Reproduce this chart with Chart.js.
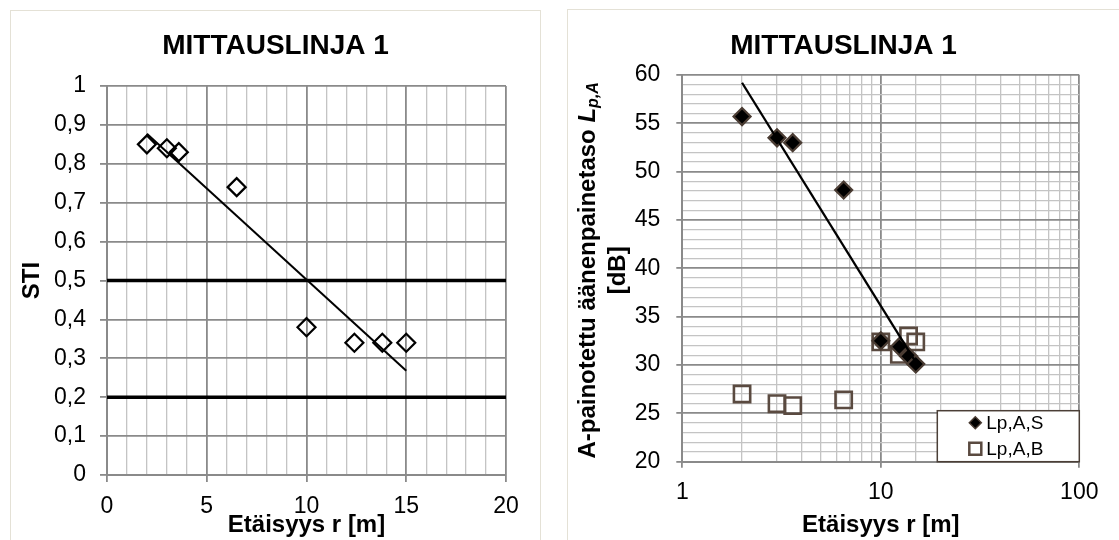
<!DOCTYPE html>
<html>
<head>
<meta charset="utf-8">
<script src="https://cdn.jsdelivr.net/npm/chart.js@4.4.0/dist/chart.umd.min.js"></script>
<style>
  html, body { margin: 0; padding: 0; background: #fff; }
  body { width: 1119px; height: 540px; position: relative; overflow: hidden; }
  .frame { position: absolute; border: 1px solid #e4e1d6; border-bottom: none; box-sizing: border-box; }
  #leftFrame { left: 10px; top: 10px; width: 531px; height: 540px; }
  #rightFrame { left: 567px; top: 9px; width: 580px; height: 540px; }
  canvas { position: absolute; }
  #stiChart { left: 11px; top: 11px; }
  #lpChart { left: 568px; top: 10px; }
</style>
</head>
<body>
<div class="frame" id="leftFrame"></div>
<div class="frame" id="rightFrame"></div>
<canvas id="stiChart" width="529" height="529"></canvas>
<canvas id="lpChart" width="551" height="530"></canvas>
<script>
Chart.defaults.font.family = "'Liberation Sans', Arial, sans-serif";
Chart.defaults.color = '#000';

// left chart: STI vs distance
const distance = [2, 3, 3.6, 6.5, 10, 12.4, 13.8, 15];
const sti = [0.85, 0.84, 0.83, 0.74, 0.38, 0.34, 0.34, 0.34];
const stiTrendX = [2, 15];
const stiTrendY = [0.877, 0.268];
const stiLimits = [0.5, 0.2];
const stiXRange = [0, 20];
const stiYRange = [0, 1];

// right chart: sound pressure level vs distance (log x)
const lpS = [55.7, 53.5, 53.0, 48.1, 32.5, 31.9, 30.9, 30.1];
const lpB = [27.0, 26.0, 25.8, 26.4, 32.4, 31.1, 33.0, 32.4];
const lpTrendX = [2, 15];
const lpTrendY = [59.2, 30.3];
const lpXRange = [1, 100];
const lpYRange = [20, 60];
const lpLabels = ['Lp,A,S', 'Lp,A,B'];

const chartTitle = 'MITTAUSLINJA 1';
const xTitle = 'Etäisyys r [m]';

const MAJOR = '#8a8a8a';
const MINOR = '#c4c4c4';
const S_EDGE = '#4a3c33';
const B_EDGE = '#5a4a40';

const pts = (xs, ys) => xs.map((x, i) => ({ x, y: ys[i] }));
const comma = v => String(Math.round(v * 10) / 10).replace('.', ',');
const isDecade = v => {
  const l = Math.log10(v);
  return Math.abs(l - Math.round(l)) < 1e-9;
};
const every5 = v => Math.abs(v / 5 - Math.round(v / 5)) < 1e-9;

// rotated y title with italic L and subscript p,A
const richYTitle = {
  id: 'richYTitle',
  afterDraw(chart) {
    const ctx = chart.ctx;
    const a = chart.chartArea;
    const cy = (a.top + a.bottom) / 2 + 2;
    const fam = "'Liberation Sans', Arial, sans-serif";
    const parts = [
      { text: 'A-painotettu äänenpainetaso ', font: 'bold 24px ' + fam, dy: 0 },
      { text: 'L', font: 'italic bold 24px ' + fam, dy: 0 },
      { text: 'p,A', font: 'italic bold 16px ' + fam, dy: 6 },
    ];
    ctx.save();
    ctx.fillStyle = '#000';
    ctx.textBaseline = 'middle';
    ctx.translate(20, cy);
    ctx.rotate(-Math.PI / 2);
    let total = 0;
    parts.forEach(p => { ctx.font = p.font; p.w = ctx.measureText(p.text).width; total += p.w; });
    let x = -total / 2;
    parts.forEach(p => { ctx.font = p.font; ctx.fillText(p.text, x, p.dy); x += p.w; });
    ctx.font = 'bold 24px ' + fam;
    ctx.textAlign = 'center';
    ctx.fillText('[dB]', 0, 30);
    ctx.restore();
  }
};

// legend box in the lower right corner of the plot
const boxLegend = {
  id: 'boxLegend',
  afterDraw(chart) {
    const ctx = chart.ctx;
    const a = chart.chartArea;
    const w = 142, h = 51;
    const x0 = a.right - w, y0 = a.bottom - h;
    ctx.save();
    ctx.fillStyle = '#fff';
    ctx.fillRect(x0, y0, w, h);
    ctx.strokeStyle = '#4b3f37';
    ctx.lineWidth = 1.5;
    ctx.strokeRect(x0, y0, w, h);
    ctx.font = "19px 'Liberation Sans', Arial, sans-serif";
    ctx.textBaseline = 'middle';
    ctx.fillStyle = '#000';
    lpLabels.forEach((label, i) => {
      const cy = y0 + 12 + i * 26;
      const mx = x0 + 38;
      ctx.beginPath();
      if (i === 0) {
        ctx.moveTo(mx - 6, cy); ctx.lineTo(mx, cy - 6); ctx.lineTo(mx + 6, cy); ctx.lineTo(mx, cy + 6);
        ctx.closePath();
        ctx.fillStyle = '#000'; ctx.fill();
        ctx.strokeStyle = S_EDGE; ctx.lineWidth = 1.5; ctx.stroke();
      } else {
        ctx.rect(mx - 6, cy - 6, 12, 12);
        ctx.strokeStyle = B_EDGE; ctx.lineWidth = 2.5; ctx.stroke();
      }
      ctx.fillStyle = '#000';
      ctx.fillText(label, x0 + 49, cy + 1);
    });
    ctx.restore();
  }
};

new Chart(document.getElementById('stiChart'), {
  type: 'scatter',
  data: {
    datasets: [
      { label: 'trend', data: pts(stiTrendX, stiTrendY), showLine: true,
        borderColor: '#000', borderWidth: 2, pointRadius: 0 },
      { label: 'STI', data: pts(distance, sti), pointStyle: 'rectRot', pointRadius: 9,
        pointBorderWidth: 2.2, pointBorderColor: '#000', pointBackgroundColor: 'rgba(255,255,255,0)' },
      ...stiLimits.map(v => ({
        label: 'limit ' + v, data: pts(stiXRange, [v, v]), showLine: true,
        borderColor: '#000', borderWidth: 3.5, pointRadius: 0
      })),
    ],
  },
  options: {
    responsive: false,
    animation: false,
    events: [],
    plugins: {
      legend: { display: false },
      tooltip: { enabled: false },
      title: {
        display: true, text: chartTitle,
        font: { size: 28, weight: 'bold' },
        padding: { top: 18.6, bottom: 22.8 },
      },
    },
    scales: {
      x: {
        type: 'linear', min: stiXRange[0], max: stiXRange[1],
        ticks: { stepSize: 1, autoSkip: false, maxRotation: 0, padding: 11, font: { size: 23 },
          callback: v => every5(v) ? v : '' },
        grid: {
          color: c => every5(c.tick.value) ? MAJOR : MINOR,
          lineWidth: c => every5(c.tick.value) ? 1.8 : 1.3,
          tickColor: c => every5(c.tick.value) ? MAJOR : 'rgba(0,0,0,0)',
          tickLength: 7,
        },
        border: { color: MAJOR, width: 2 },
        title: { display: true, text: xTitle, font: { size: 24, weight: 'bold' }, padding: { top: 0, bottom: 0 } },
        afterFit: s => { s.height = 65; },
      },
      y: {
        min: stiYRange[0], max: stiYRange[1],
        ticks: { stepSize: 0.1, padding: 14, font: { size: 23 }, callback: v => comma(v) },
        grid: { color: MAJOR, lineWidth: 1.8, tickColor: MAJOR, tickLength: 7 },
        border: { color: MAJOR, width: 2 },
        title: { display: true, text: 'STI', font: { size: 24, weight: 'bold' }, padding: { top: 6.6, bottom: 0 } },
        afterFit: s => { s.width = 96; },
      },
      yR: {
        position: 'right', min: 0, max: 1,
        ticks: { display: false },
        grid: { display: false },
        border: { display: false },
        afterFit: s => { s.width = 34; },
      },
    },
  },
});

new Chart(document.getElementById('lpChart'), {
  type: 'scatter',
  data: {
    datasets: [
      { label: 'trend', data: pts(lpTrendX, lpTrendY), showLine: true,
        borderColor: '#000', borderWidth: 2.3, pointRadius: 0 },
      { label: lpLabels[0], data: pts(distance, lpS), pointStyle: 'rectRot', pointRadius: 8.5,
        pointBorderWidth: 2.2, pointBorderColor: S_EDGE, pointBackgroundColor: '#000' },
      { label: lpLabels[1], data: pts(distance, lpB), pointStyle: 'rect', pointRadius: 11.5,
        pointBorderWidth: 2.6, pointBorderColor: B_EDGE, pointBackgroundColor: 'rgba(255,255,255,0)' },
    ],
  },
  options: {
    responsive: false,
    animation: false,
    events: [],
    plugins: {
      legend: { display: false },
      tooltip: { enabled: false },
      title: {
        display: true, text: chartTitle,
        font: { size: 28, weight: 'bold' },
        padding: { top: 19.9, bottom: 11.5 },
      },
    },
    scales: {
      x: {
        type: 'logarithmic', min: lpXRange[0], max: lpXRange[1],
        ticks: { autoSkip: false, maxRotation: 0, padding: 11, font: { size: 23 },
          callback: v => isDecade(v) ? v : '' },
        grid: {
          color: c => isDecade(c.tick.value) ? MAJOR : MINOR,
          lineWidth: c => isDecade(c.tick.value) ? 1.8 : 1.3,
          tickColor: c => isDecade(c.tick.value) ? MAJOR : 'rgba(0,0,0,0)',
          tickLength: 6,
        },
        border: { color: MAJOR, width: 2 },
        title: { display: true, text: xTitle, font: { size: 24, weight: 'bold' }, padding: { top: 0, bottom: 0 } },
        afterFit: s => { s.height = 78.3; },
      },
      y: {
        min: lpYRange[0], max: lpYRange[1],
        ticks: { stepSize: 1, autoSkip: false, padding: 16, font: { size: 23 },
          callback: v => every5(v) ? v : '' },
        grid: {
          color: c => every5(c.tick.value) ? MAJOR : MINOR,
          lineWidth: c => every5(c.tick.value) ? 1.8 : 1.2,
          tickColor: c => every5(c.tick.value) ? MAJOR : 'rgba(0,0,0,0)',
          tickLength: 6,
        },
        border: { color: MAJOR, width: 2 },
        afterFit: s => { s.width = 114.3; },
      },
      yR: {
        position: 'right', min: 0, max: 1,
        ticks: { display: false },
        grid: { display: false },
        border: { display: false },
        afterFit: s => { s.width = 39.7; },
      },
    },
  },
  plugins: [richYTitle, boxLegend],
});
</script>
</body>
</html>
